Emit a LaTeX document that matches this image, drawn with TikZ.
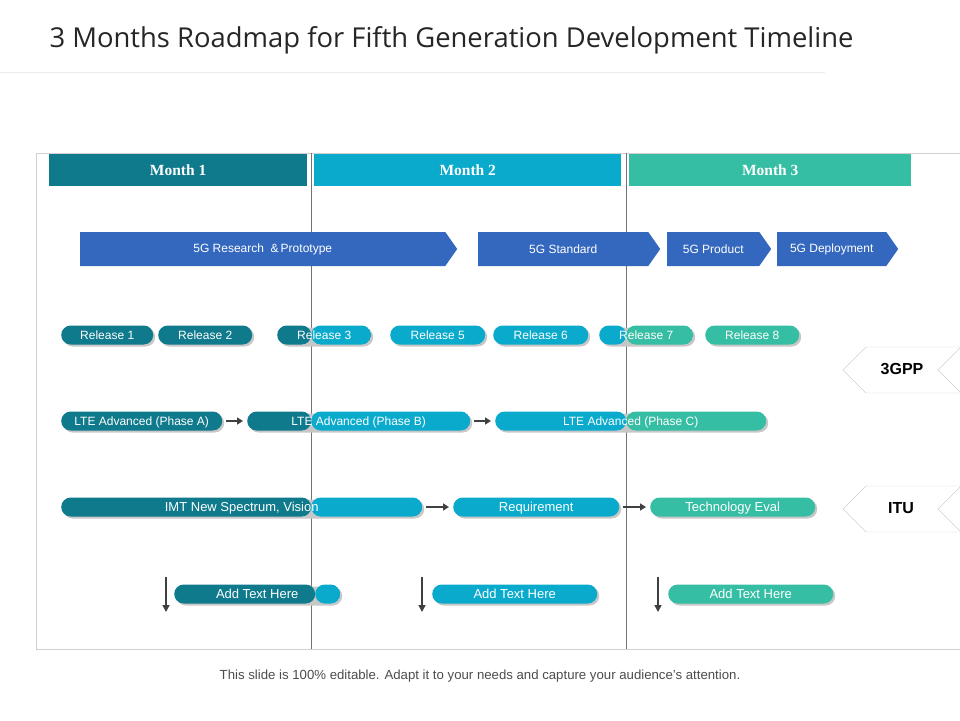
\documentclass[tikz,border=0pt]{standalone}
\usepackage{fontspec}
\setmainfont{Liberation Sans}
\newfontfamily\titlefont{Open Sans}
\newfontfamily\monthfont{Liberation Serif}
\usetikzlibrary{shapes.symbols,arrows.meta}
\definecolor{cdark}{HTML}{0F7A8C}
\definecolor{ccyan}{HTML}{0AAACC}
\definecolor{cgreen}{HTML}{35BEA3}
\definecolor{cblue}{HTML}{3468BE}
\definecolor{cframe}{HTML}{D0D0D0}
\definecolor{carrow}{HTML}{404040}
\tikzset{
  pill/.style={rounded corners=9.5pt, minimum height=19pt, inner sep=0pt, text=white,
    font=\fontsize{12}{12}\selectfont, anchor=west, draw=none, text depth=0pt, text height=8.6pt,
    preaction={fill=black!22, transform canvas={xshift=2pt,yshift=-2pt}}},
  splitfill/.style n args={3}{path picture={
    \fill[#3] (path picture bounding box.south west) rectangle ([xshift=#1pt]path picture bounding box.north west);
    \fill[#2] ([xshift=#1pt]path picture bounding box.south west) rectangle (path picture bounding box.north east);}},
  month/.style={minimum height=32pt, inner sep=0pt, text=white, anchor=west,
    font=\monthfont\bfseries\fontsize{15.5}{15}\selectfont},
  blue/.style={signal, signal to=east, signal pointer angle=110, fill=cblue, text=white,
    minimum height=34pt, inner sep=0pt, anchor=west, font=\fontsize{12}{12}\selectfont},
  arr/.style={-{Triangle[length=6pt,width=7pt]}, line width=2pt, draw=carrow, shorten >=4pt, shorten <=4pt},
  darr/.style={-{Triangle[length=7pt,width=7pt]}, line width=1.5pt, draw=carrow},
  tag/.style={draw=cframe, fill=white},
}
\begin{document}
\begin{tikzpicture}[x=1pt,y=-1pt]
\useasboundingbox (0,0) rectangle (960,720);
\node[anchor=west, font=\titlefont\fontsize{27.4}{27}\selectfont, text=black!85] (title) at (46,40) {3 Months Roadmap for Fifth Generation Development Timeline};
\draw[black!8, line width=1pt] (0,72) -- (825,72);
\draw[cframe] (960,153) -- (36,153) -- (36,649) -- (960,649);
\draw[black!55] (311,153) -- (311,649);
\draw[black!55] (626,153) -- (626,649);
\node[month, fill=cdark, minimum width=258pt] (m1) at (49,170) {Month 1};
\node[month, fill=ccyan, minimum width=307pt] (m2) at (314,170) {Month 2};
\node[month, fill=cgreen, minimum width=282pt] (m3) at (629,170) {Month 3};
\node[blue, minimum width=377pt] (b1) at (80,249) {5G Research \ \&\,Prototype\hspace{30pt}};
\node[blue, minimum width=182pt] (b2) at (478,249) {5G Standard\hspace{20pt}};
\node[blue, minimum width=104pt] (b3) at (667,249) {5G Product\hspace{10pt}};
\node[blue, minimum width=121pt] (b4) at (777,249) {5G Deployment\hspace{12pt}};
% releases
\node[pill, fill=cdark, minimum width=92pt] (r1) at (61,335) {Release 1};
\node[pill, fill=cdark, minimum width=94pt] (r2) at (158,335) {Release 2};
\node[pill, splitfill={34}{ccyan}{cdark}, minimum width=94pt] (r3) at (277,335) {Release 3};
\node[pill, fill=ccyan, minimum width=95pt] (r5) at (390,335) {Release 5};
\node[pill, fill=ccyan, minimum width=95pt] (r6) at (493,335) {Release 6};
\node[pill, splitfill={27}{cgreen}{ccyan}, minimum width=94pt] (r7) at (599,335) {Release 7};
\node[pill, fill=cgreen, minimum width=94pt] (r8) at (705,335) {Release 8};
% LTE
\node[pill, fill=cdark, minimum width=161pt] (la) at (61,421) {LTE Advanced (Phase A)};
\node[pill, splitfill={64}{ccyan}{cdark}, minimum width=223pt] (lb) at (247,421) {LTE Advanced (Phase B)};
\node[pill, splitfill={131}{cgreen}{ccyan}, minimum width=271pt] (lc) at (495,421) {LTE Advanced (Phase C)};
\draw[arr] (la) -- (lb);
\draw[arr] (lb) -- (lc);
% IMT
\node[pill, splitfill={250}{ccyan}{cdark}, minimum width=361pt, font=\fontsize{13}{13}\selectfont] (imt) at (61,507) {IMT New Spectrum, Vision};
\node[pill, fill=ccyan, minimum width=166pt, font=\fontsize{13}{13}\selectfont] (req) at (453,507) {Requirement};
\node[pill, fill=cgreen, minimum width=165pt, font=\fontsize{13}{13}\selectfont] (tech) at (650,507) {Technology Eval};
\draw[arr] (imt) -- (req);
\draw[arr] (req) -- (tech);
% add text
\node[pill, splitfill={141}{ccyan}{cdark}, minimum width=166pt, font=\fontsize{13}{13}\selectfont] (t1) at (174,594) {Add Text Here};
\node[pill, fill=ccyan, minimum width=165pt, font=\fontsize{13}{13}\selectfont] (t2) at (432,594) {Add Text Here};
\node[pill, fill=cgreen, minimum width=165pt, font=\fontsize{13}{13}\selectfont] (t3) at (668,594) {Add Text Here};
\coordinate (d1a) at (166,577); \coordinate (d1b) at (166,612);
\coordinate (d2a) at (422,577); \coordinate (d2b) at (422,612);
\coordinate (d3a) at (658,577); \coordinate (d3b) at (658,612);
\draw[darr] (d1a) -- (d1b);
\draw[darr] (d2a) -- (d2b);
\draw[darr] (d3a) -- (d3b);
% tags
\draw[tag] (843,370) -- (866,347) -- (961,347) -- (938,370) -- (961,393) -- (866,393) -- cycle;
\node[font=\bfseries\fontsize{16}{16}\selectfont] (g3) at (902,369) {3GPP};
\draw[tag] (843,509) -- (866,486) -- (961,486) -- (938,509) -- (961,532) -- (866,532) -- cycle;
\node[font=\bfseries\fontsize{16}{16}\selectfont] (itu) at (901,508) {ITU};
\node[font=\fontsize{13.2}{13}\selectfont, text=black!70] (foot) at (480,676) {This slide is 100\% editable. Adapt it to your needs and capture your audience's attention.};
\end{tikzpicture}
\end{document}
